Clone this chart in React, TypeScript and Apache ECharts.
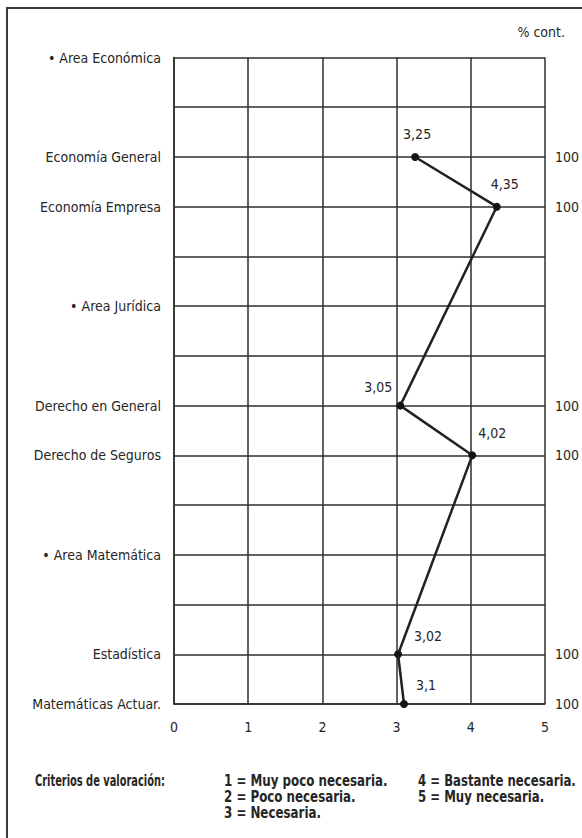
import React, { useEffect, useRef } from "react";
import * as echarts from "echarts";

const categories = [
  "• Area Económica",
  "",
  "Economía General",
  "Economía Empresa",
  "",
  "• Area Jurídica",
  "",
  "Derecho en General",
  "Derecho de Seguros",
  "",
  "• Area Matemática",
  "",
  "Estadística",
  "Matemáticas Actuar.",
];

const values: (number | null)[] = [
  null, null, 3.25, 4.35, null, null, null, 3.05, 4.02, null, null, null, 3.02, 3.1,
];

const rightLabels = ["", "", "100", "100", "", "", "", "100", "100", "", "", "", "100", "100"];

const xTicks = [0, 1, 2, 3, 4, 5];

const criteriaTitle = "Criterios de valoración:";
const criteriaCol1 = ["1 = Muy poco necesaria.", "2 = Poco necesaria.", "3 = Necesaria."];
const criteriaCol2 = ["4 = Bastante necesaria.", "5 = Muy necesaria."];

// label offsets (style only)
const labelOffsets: Record<number, [number, number]> = {
  2: [2, -7],
  3: [8, -7],
  7: [-22, -3],
  8: [20, -6],
  12: [30, -2],
  13: [22, -3],
};

const FONT = "'DejaVu Sans Condensed', 'Liberation Sans Narrow', sans-serif";
const TXT = "#262626";
const LINE = "#2e2e2e";

export default function App() {
  const ref = useRef<HTMLDivElement>(null);
  useEffect(() => {
    if (!ref.current) return;
    const chart = echarts.init(ref.current, undefined, { renderer: "svg" });
    const seriesData = values
      .map((v, i) => (v === null ? null : { v, i }))
      .filter((d): d is { v: number; i: number } => d !== null)
      .map(({ v, i }) => ({
        value: [v, i],
        label: { offset: labelOffsets[i] || [0, 0] },
      }));

    const graphics: any[] = [
      { type: "line", shape: { x1: 6, y1: 8, x2: 582, y2: 8 }, style: { stroke: "#3a3a3a", lineWidth: 2 } },
      { type: "line", shape: { x1: 7, y1: 8, x2: 7, y2: 838 }, style: { stroke: "#3a3a3a", lineWidth: 2 } },
      {
        type: "text",
        x: 565,
        y: 32,
        style: { text: "% cont.", font: `14px ${FONT}`, fill: TXT, textAlign: "right", textVerticalAlign: "middle" },
      },
      {
        type: "text",
        x: 35,
        y: 781,
        scaleX: 0.73,
        style: { text: criteriaTitle, font: `bold 15px ${FONT}`, fill: TXT, textAlign: "left", textVerticalAlign: "middle" },
      },
    ];
    criteriaCol1.forEach((t, k) =>
      graphics.push({
        type: "text",
        x: 224,
        y: 781 + k * 16,
        scaleX: 0.88,
        style: { text: t, font: `bold 15px ${FONT}`, fill: TXT, textAlign: "left", textVerticalAlign: "middle" },
      })
    );
    criteriaCol2.forEach((t, k) =>
      graphics.push({
        type: "text",
        x: 418,
        y: 781 + k * 16,
        scaleX: 0.87,
        style: { text: t, font: `bold 15px ${FONT}`, fill: TXT, textAlign: "left", textVerticalAlign: "middle" },
      })
    );

    chart.setOption({
      animation: false,
      backgroundColor: "#ffffff",
      textStyle: { fontFamily: FONT },
      grid: { left: 174, right: 37, top: 57.5, bottom: 134, containLabel: false },
      xAxis: {
        type: "value",
        min: 0,
        max: 5,
        interval: 1,
        axisLine: { show: true, lineStyle: { color: LINE, width: 1.5 } },
        axisTick: { show: false },
        splitLine: { show: true, lineStyle: { color: LINE, width: 1.5 } },
        axisLabel: {
          margin: 16,
          fontSize: 14,
          color: TXT,
          fontFamily: FONT,
          formatter: (v: number) => (xTicks.includes(v) ? String(v) : ""),
        },
      },
      yAxis: [
        {
          type: "category",
          data: categories,
          inverse: true,
          boundaryGap: false,
          axisLine: { show: true, lineStyle: { color: LINE, width: 1.5 } },
          axisTick: { show: false },
          splitLine: { show: true, lineStyle: { color: LINE, width: 1.5 } },
          axisLabel: { margin: 13, fontSize: 14, color: TXT, fontFamily: FONT, interval: 0 },
        },
        {
          type: "category",
          data: rightLabels,
          inverse: true,
          boundaryGap: false,
          position: "right",
          axisLine: { show: false },
          axisTick: { show: false },
          splitLine: { show: false },
          axisLabel: { margin: 10, fontSize: 14, color: TXT, fontFamily: FONT, interval: 0 },
        },
      ],
      series: [
        {
          type: "line",
          yAxisIndex: 0,
          data: seriesData,
          symbol: "circle",
          symbolSize: 8,
          lineStyle: { color: "#222", width: 2.5 },
          itemStyle: { color: "#151515" },
          label: {
            show: true,
            position: "top",
            fontSize: 14,
            color: TXT,
            fontFamily: FONT,
            formatter: (p: any) => String(p.value[0]).replace(".", ","),
          },
        },
      ],
      graphic: graphics,
    });
    return () => chart.dispose();
  }, []);
  return (
    <div
      ref={ref}
      style={{ position: "fixed", left: 0, top: 0, width: 582, height: 838, background: "#fff" }}
    />
  );
}
